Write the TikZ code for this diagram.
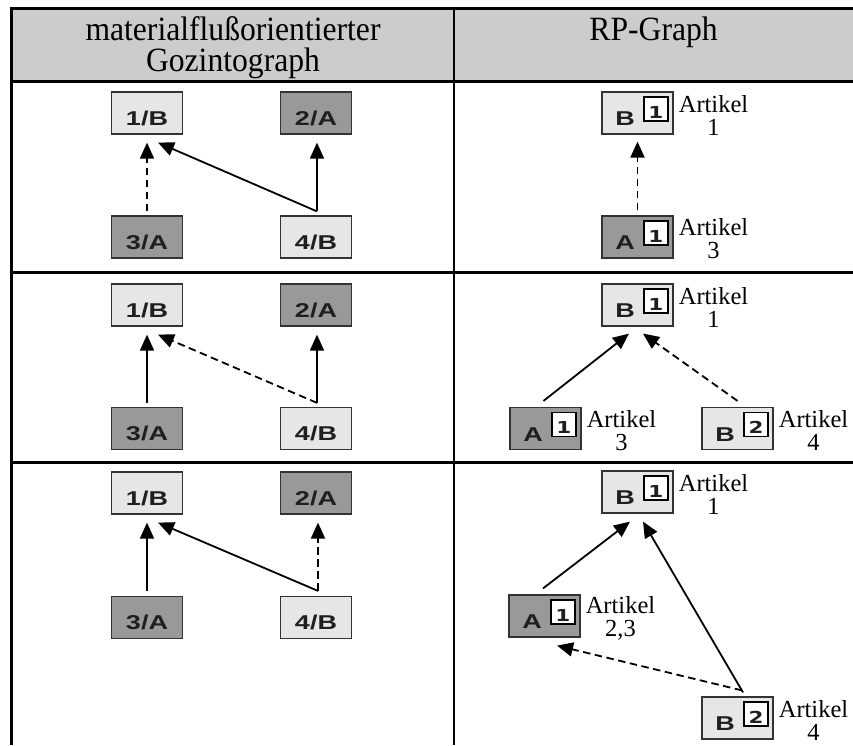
\documentclass[tikz,border=0pt]{standalone}
\usepackage{fontspec}
\usepackage{graphicx}
\setmainfont{Liberation Serif}
\newfontfamily\labfont{Liberation Sans}
\newfontfamily\digfont{DejaVu Sans}
\usetikzlibrary{arrows.meta}

\definecolor{headgray}{HTML}{CCCCCC}
\definecolor{boxlight}{HTML}{E6E6E6}
\definecolor{boxdark}{HTML}{999999}

\newcommand{\hstr}[2]{\scalebox{#1}[1]{#2}}

\tikzset{
  x=1pt, y=-1pt,
  gbox/.style={draw=black!80, line width=1.2pt, minimum width=71pt,
    minimum height=42pt, inner sep=0pt},
  lightbox/.style={gbox, fill=boxlight},
  darkbox/.style={gbox, fill=boxdark},
  sqbox/.style={draw=black, line width=1.3pt, fill=white,
    minimum size=24pt, inner sep=0pt},
  lab/.style={font=\labfont\bfseries\fontsize{20}{20}\selectfont,
    inner sep=0pt, anchor=base, text=black!88},
  dig/.style={font=\digfont\bfseries\fontsize{16.5}{16.5}\selectfont,
    inner sep=0pt, text=black!88},
  art/.style={font=\fontsize{24.5}{23}\selectfont, align=center,
    inner sep=0pt, anchor=west},
  head/.style={font=\fontsize{34}{31}\selectfont, align=center,
    inner sep=0pt},
  link/.style={line width=1.8pt, -{Triangle[length=16pt,width=14pt]}},
  dlink/.style={link, dash pattern=on 7.5pt off 4.5pt},
}

% box of the Gozintograph: name, position, style, label
\newcommand{\gzitem}[4]{%
  \node[#3] (#1) at #2 {};
  \node[lab] (#1-l) at ([yshift=-12.3pt]#1.center) {\hstr{1.35}{#4}};
}

% box of the RP graph: name, position, style, letter, digit, article numbers
\newcommand{\rpitem}[6]{%
  \node[#3] (#1) at #2 {};
  \node[sqbox, anchor=north east] (#1-q) at ([xshift=-5pt,yshift=-5pt]#1.north east) {};
  \node[lab] (#1-l) at ([xshift=-12.5pt,yshift=-12.5pt]#1.center) {\hstr{1.35}{#4}};
  \node[dig] (#1-d) at ([yshift=-3pt]#1-q.center) {\hstr{1.3}{#5}};
  \node[art] (#1-t) at ([xshift=5pt,yshift=-2pt]#1.east) {Artikel\\#6};
}

\begin{document}
\begin{tikzpicture}
\useasboundingbox (0,0) rectangle (853,745);

% table frame
\fill[headgray] (11.7,8.3) rectangle (853,81.7);
\draw[line width=3.3pt] (10,8.3) -- (853,8.3);
\draw[line width=3.3pt] (11.7,6.6) -- (11.7,745);
\draw[line width=3.4pt] (10,81.7) -- (853,81.7);
\draw[line width=3.5pt] (10,272.5) -- (853,272.5);
\draw[line width=3.5pt] (10,462.5) -- (853,462.5);
\draw[line width=1.7pt] (454.2,8.3) -- (454.2,745);

% column heads
\node[head] (hl) at (233,47.5)
  {\hstr{0.93}{materialflußorientierter}\\\hstr{0.93}{Gozintograph}};
\node[head, anchor=base] (hr) at (653.6,40) {\hstr{0.93}{RP-Graph}};

% ---- row 1 ----
\gzitem{g1a}{(147,113)}{lightbox}{1/B}
\gzitem{g1b}{(316,113)}{darkbox}{2/A}
\gzitem{g1c}{(147,237)}{darkbox}{3/A}
\gzitem{g1d}{(316,237)}{lightbox}{4/B}
\draw[dlink] ([yshift=4pt]g1c.north) -- ([yshift=-8pt]g1a.south);
\draw[link] ([xshift=1pt,yshift=4pt]g1d.north) -- ([xshift=11pt,yshift=-8pt]g1a.south);
\draw[link] ([xshift=1pt,yshift=4pt]g1d.north) -- ([xshift=1pt,yshift=-8pt]g1b.south);

\rpitem{r1b}{(637.5,113)}{lightbox}{B}{1}{1}
\rpitem{r1a}{(637.5,237)}{darkbox}{A}{1}{3}
\draw[dlink] ([yshift=5pt]r1a.north) -- ([yshift=-7pt]r1b.south);

% ---- row 2 ----
\gzitem{g2a}{(147,305)}{lightbox}{1/B}
\gzitem{g2b}{(316,305)}{darkbox}{2/A}
\gzitem{g2c}{(147,428.5)}{darkbox}{3/A}
\gzitem{g2d}{(316,428.5)}{lightbox}{4/B}
\draw[link] ([yshift=4pt]g2c.north) -- ([yshift=-8pt]g2a.south);
\draw[dlink] ([xshift=1pt,yshift=4pt]g2d.north) -- ([xshift=11pt,yshift=-8pt]g2a.south);
\draw[link] ([xshift=1pt,yshift=4pt]g2d.north) -- ([xshift=1pt,yshift=-8pt]g2b.south);

\rpitem{r2b}{(637.5,305)}{lightbox}{B}{1}{1}
\rpitem{r2a}{(545.5,428.5)}{darkbox}{A}{1}{3}
\rpitem{r2c}{(737.5,428.5)}{lightbox}{B}{2}{4}
\draw[link] ([xshift=-2pt,yshift=6pt]r2a.north) -- ([xshift=-8.5pt,yshift=-7pt]r2b.south);
\draw[dlink] ([yshift=6pt]r2c.north) -- ([xshift=5.5pt,yshift=-7pt]r2b.south);

% ---- row 3 ----
\gzitem{g3a}{(147,493)}{lightbox}{1/B}
\gzitem{g3b}{(316,493)}{darkbox}{2/A}
\gzitem{g3c}{(147,617.5)}{darkbox}{3/A}
\gzitem{g3d}{(316,617.5)}{lightbox}{4/B}
\draw[link] ([yshift=5pt]g3c.north) -- ([yshift=-8pt]g3a.south);
\draw[link] ([xshift=2pt,yshift=5pt]g3d.north) -- ([xshift=11pt,yshift=-8pt]g3a.south);
\draw[dlink] ([xshift=2pt,yshift=5pt]g3d.north) -- ([xshift=2pt,yshift=-8pt]g3b.south);

\rpitem{r3b}{(637.5,492)}{lightbox}{B}{1}{1}
\rpitem{r3a}{(544.5,616)}{darkbox}{A}{1}{2,3}
\rpitem{r3c}{(737.5,718)}{lightbox}{B}{2}{4}
\draw[link] ([xshift=-1.5pt,yshift=6pt]r3a.north) -- ([xshift=-7.5pt,yshift=-8pt]r3b.south);
\draw[link] ([xshift=5.5pt,yshift=4pt]r3c.north) -- ([xshift=5.5pt,yshift=-8pt]r3b.south);
\draw[dlink] ([xshift=4.5pt,yshift=6pt]r3c.north) -- ([xshift=12.5pt,yshift=-8pt]r3a.south);
\end{tikzpicture}
\end{document}
